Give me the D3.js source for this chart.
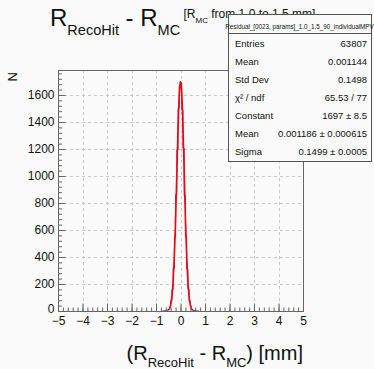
<!DOCTYPE html>
<html>
<head>
<meta charset="utf-8">
<script src="https://cdn.jsdelivr.net/npm/d3@7"></script>
<style>
  html, body { margin: 0; padding: 0; background: #fafafa; }
  svg { display: block; font-family: "Liberation Sans", Arial, sans-serif; }
</style>
</head>
<body>
<div id="chart"></div>
<script>
// histogram bins (lower edges) and counts
const binEdges = [-0.75, -0.70, -0.65, -0.60, -0.55, -0.50, -0.45, -0.40, -0.35, -0.30,
                  -0.25, -0.20, -0.15, -0.10, -0.05, 0.00, 0.05, 0.10, 0.15, 0.20,
                  0.25, 0.30, 0.35, 0.40, 0.45, 0.50, 0.55, 0.60, 0.65, 0.70, 0.75];
const binCounts = [0, 1, 2, 3, 6, 12, 30, 77, 160, 318,
                   548, 862, 1195, 1502, 1668, 1690, 1493, 1206, 855, 553,
                   312, 165, 73, 33, 10, 5, 2, 1, 0, 0];

// gaussian fit parameters (from stats box) and fit range
const fitConstant = 1697;
const fitMean = 0.001186;
const fitSigma = 0.1499;
const fitRange = [-0.5, 0.5];

const xTicks = [-5, -4, -3, -2, -1, 0, 1, 2, 3, 4, 5];
const yTicks = [0, 200, 400, 600, 800, 1000, 1200, 1400, 1600];

const statsTitle = "Residual_[0023, params]_1.0_1.5_90_individualMPV";
const statsLabels = ["Entries", "Mean", "Std Dev", "\u03C7\u00B2 / ndf", "Constant", "Mean", "Sigma"];
const statsValues = ["63807", "0.001144", "0.1498", "65.53 / 77", "1697 \u00B1 8.5", "0.001186 \u00B1 0.000615", "0.1499 \u00B1 0.0005"];

const W = 374, H = 369;
const frame = { left: 58, right: 303, top: 70, bottom: 311 };

const svg = d3.select("#chart").append("svg")
  .attr("width", W)
  .attr("height", H);

const x = d3.scaleLinear().domain([-5, 5]).range([frame.left, frame.right]);
const y = d3.scaleLinear().domain([0, 1785]).range([frame.bottom, frame.top]);

// grid
const grid = svg.append("g")
  .attr("stroke", "#c8c8c8")
  .attr("stroke-width", 1)
  .attr("stroke-dasharray", "3,3");
grid.selectAll("line.gx")
  .data(xTicks.slice(1, -1))
  .join("line")
  .attr("x1", d => Math.round(x(d)) + 0.5).attr("x2", d => Math.round(x(d)) + 0.5)
  .attr("y1", frame.top).attr("y2", frame.bottom);
grid.selectAll("line.gy")
  .data(yTicks.slice(1))
  .join("line")
  .attr("y1", d => Math.round(y(d)) + 0.5).attr("y2", d => Math.round(y(d)) + 0.5)
  .attr("x1", frame.left).attr("x2", frame.right);

// histogram (step line)
const steps = [];
binCounts.forEach((c, i) => {
  steps.push([binEdges[i], c]);
  steps.push([binEdges[i + 1], c]);
});
svg.append("path")
  .datum(steps)
  .attr("fill", "none")
  .attr("stroke", "#1010d0")
  .attr("stroke-width", 0.8)
  .attr("d", d3.line().x(d => x(d[0])).y(d => y(d[1])));

// fit curve
const fitX = d3.range(fitRange[0], fitRange[1] + 1e-9, 0.005);
const gaus = v => fitConstant * Math.exp(-0.5 * Math.pow((v - fitMean) / fitSigma, 2));
svg.append("path")
  .datum(fitX)
  .attr("fill", "none")
  .attr("stroke", "#ff0000")
  .attr("stroke-width", 1.6)
  .attr("d", d3.line().x(d => x(d)).y(d => y(gaus(d))));

// frame
svg.append("rect")
  .attr("x", frame.left + 0.5).attr("y", frame.top + 0.5)
  .attr("width", frame.right - frame.left).attr("height", frame.bottom - frame.top)
  .attr("fill", "none")
  .attr("stroke", "#666")
  .attr("stroke-width", 1);

// axes
const fmt = d3.format("d");
svg.append("g")
  .attr("transform", `translate(${frame.left + 0.5},0)`)
  .call(d3.axisLeft(y).tickValues(yTicks).tickSize(-7).tickPadding(4).tickFormat(fmt));
svg.append("g")
  .attr("transform", `translate(${frame.left + 0.5},0)`)
  .call(d3.axisLeft(y).tickValues(d3.range(0, 1785, 40)).tickSize(-3.5).tickFormat(""));

svg.append("g")
  .attr("class", "xax")
  .attr("transform", `translate(0,${frame.bottom + 0.5})`)
  .call(d3.axisBottom(x).tickValues(xTicks).tickSize(-8).tickPadding(5).tickFormat(fmt));
svg.append("g")
  .attr("transform", `translate(0,${frame.bottom + 0.5})`)
  .call(d3.axisBottom(x).tickValues(d3.range(-5, 5.001, 0.2)).tickSize(-4).tickFormat(""));

svg.selectAll(".domain").remove();
svg.selectAll(".tick line").attr("stroke", "#666");
svg.selectAll(".tick text")
  .attr("fill", "#111")
  .style("font-size", "12px")
  .style("font-family", "'Liberation Sans', Arial, sans-serif");
// nudge the "0" on the y axis up a little so it clears the "-5" below it
svg.selectAll(".tick text").filter(function (d) {
  return d === 0 && !this.closest(".xax");
}).attr("dy", "0.1em");

// y title
svg.append("text")
  .attr("transform", `translate(17,72) rotate(-90)`)
  .attr("text-anchor", "end")
  .style("font-size", "13px")
  .attr("fill", "#111")
  .text("N");

// x title
const xt = svg.append("text")
  .attr("x", frame.right)
  .attr("y", 360)
  .attr("text-anchor", "end")
  .attr("fill", "#111")
  .style("font-size", "20px");
xt.append("tspan").text("(R");
xt.append("tspan").attr("dy", 7).style("font-size", "13px").text("RecoHit");
xt.append("tspan").attr("dy", -7).text(" - R");
xt.append("tspan").attr("dy", 7).style("font-size", "13px").text("MC");
xt.append("tspan").attr("dy", -7).text(") [mm]");

// main title
const tt = svg.append("text")
  .attr("x", 50)
  .attr("y", 26)
  .attr("fill", "#111")
  .style("font-size", "24px");
tt.append("tspan").text("R");
tt.append("tspan").attr("dy", 9).style("font-size", "14.5px").text("RecoHit");
tt.append("tspan").attr("dy", -9).text(" - R");
tt.append("tspan").attr("dy", 9).style("font-size", "14.5px").text("MC");
tt.append("tspan").attr("dy", -17).style("font-size", "12px").text(" [R");
tt.append("tspan").attr("dy", 5).style("font-size", "8px").text("MC");
tt.append("tspan").attr("dy", -5).style("font-size", "12px").text(" from 1.0 to 1.5 mm]");

// stats box
const box = { left: 228, right: 371, top: 14, titleBottom: 33, rowH: 18 };
const boxBottom = box.titleBottom + statsLabels.length * box.rowH + 2;
const sb = svg.append("g");
sb.append("rect")
  .attr("x", box.left + 0.5).attr("y", box.top + 0.5)
  .attr("width", box.right - box.left).attr("height", boxBottom - box.top)
  .attr("fill", "#fafafa")
  .attr("stroke", "#555");
sb.append("line")
  .attr("x1", box.left).attr("x2", box.right)
  .attr("y1", box.titleBottom + 0.5).attr("y2", box.titleBottom + 0.5)
  .attr("stroke", "#555");
sb.append("text")
  .attr("x", (box.left + box.right) / 2)
  .attr("y", 29)
  .attr("text-anchor", "middle")
  .attr("fill", "#111")
  .style("font-size", "6.3px")
  .text(statsTitle);
sb.selectAll("text.lab")
  .data(statsLabels)
  .join("text")
  .attr("class", "lab")
  .attr("x", box.left + 7)
  .attr("y", (d, i) => box.titleBottom + box.rowH * i + 14)
  .attr("fill", "#111")
  .style("font-size", "9.5px")
  .text(d => d);
sb.selectAll("text.val")
  .data(statsValues)
  .join("text")
  .attr("class", "val")
  .attr("x", box.right - 4)
  .attr("y", (d, i) => box.titleBottom + box.rowH * i + 14)
  .attr("text-anchor", "end")
  .attr("fill", "#111")
  .style("font-size", "9.5px")
  .text(d => d);
</script>
</body>
</html>
